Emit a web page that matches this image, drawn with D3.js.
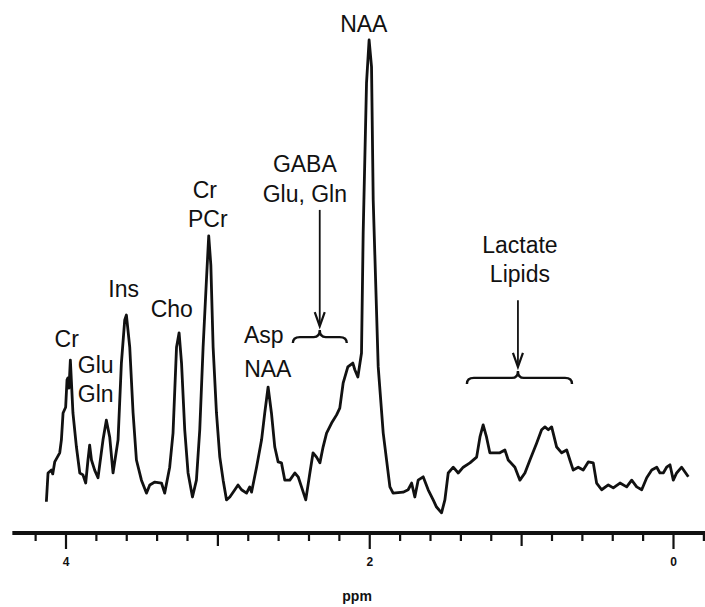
<!DOCTYPE html>
<html>
<head>
<meta charset="utf-8">
<script src="https://cdn.jsdelivr.net/npm/d3@7"></script>
<style>
  body { margin: 0; background: #fff; }
  text { font-family: "Liberation Sans", Arial, sans-serif; fill: #111; }
</style>
</head>
<body>
<svg id="graph" width="705" height="607"></svg>
<script>
const width = 705;
const height = 607;

// spectrum (ppm, intensity in arbitrary units)
const ppm = [4.126, 4.115, 4.093, 4.084, 4.071, 4.038, 4.027, 4.016, 3.999, 3.990,
  3.984, 3.977, 3.968, 3.951, 3.928, 3.906, 3.885, 3.867, 3.852, 3.841,
  3.829, 3.808, 3.786, 3.753, 3.731, 3.709, 3.687, 3.654, 3.632, 3.610,
  3.599, 3.577, 3.555, 3.533, 3.500, 3.467, 3.445, 3.412, 3.368, 3.347,
  3.314, 3.292, 3.269, 3.252, 3.236, 3.215, 3.193, 3.164, 3.138, 3.116,
  3.094, 3.072, 3.057, 3.043, 3.028, 3.006, 2.984, 2.962, 2.940, 2.918,
  2.885, 2.864, 2.841, 2.808, 2.787, 2.775, 2.742, 2.709, 2.688, 2.666,
  2.644, 2.622, 2.600, 2.578, 2.556, 2.523, 2.490, 2.468, 2.446, 2.418,
  2.391, 2.370, 2.347, 2.325, 2.304, 2.281, 2.248, 2.215, 2.194, 2.172,
  2.141, 2.108, 2.095, 2.075, 2.051, 2.040, 2.018, 2.001, 1.985, 1.974,
  1.941, 1.908, 1.864, 1.843, 1.777, 1.744, 1.721, 1.700, 1.678, 1.645,
  1.612, 1.579, 1.557, 1.524, 1.502, 1.480, 1.447, 1.414, 1.381, 1.337,
  1.293, 1.271, 1.250, 1.228, 1.206, 1.173, 1.140, 1.107, 1.085, 1.041,
  1.008, 0.975, 0.942, 0.898, 0.865, 0.843, 0.821, 0.799, 0.766, 0.733,
  0.700, 0.679, 0.657, 0.624, 0.591, 0.558, 0.525, 0.503, 0.470, 0.426,
  0.393, 0.349, 0.305, 0.272, 0.239, 0.206, 0.173, 0.140, 0.107, 0.086,
  0.064, 0.042, 0.020, -0.002, -0.024, -0.057, -0.101];
const intensity = [3.8, 9.8, 10.4, 9.6, 12.1, 14.0, 16.7, 22.3, 23.5, 29.2,
  29.6, 27.5, 33.3, 22.3, 15.2, 9.8, 9.4, 7.7, 12.5, 15.6,
  12.5, 10.4, 8.8, 16.7, 20.8, 17.3, 9.8, 16.7, 32.7, 41.7,
  42.7, 36.0, 22.3, 12.5, 8.3, 5.6, 7.3, 7.9, 7.7, 5.6,
  11.0, 18.1, 36.0, 39.0, 32.7, 18.8, 9.8, 4.8, 8.3, 18.8,
  36.0, 50.0, 59.2, 53.1, 36.0, 22.3, 13.1, 8.3, 4.2, 4.8,
  6.3, 7.3, 6.3, 5.6, 6.9, 5.8, 11.0, 16.7, 22.3, 27.7,
  22.3, 15.2, 12.1, 11.9, 8.3, 8.3, 9.8, 9.0, 6.9, 4.2,
  9.8, 14.0, 13.1, 11.9, 15.2, 18.1, 20.2, 21.9, 23.3, 28.5,
  31.9, 32.7, 31.3, 29.8, 34.8, 59.8, 91.0, 100, 94.4, 66.7,
  31.9, 18.1, 6.9, 5.6, 5.8, 6.3, 7.7, 4.8, 8.3, 9.0,
  6.3, 4.2, 2.7, 1.5, 4.2, 9.8, 11.0, 9.8, 11.0, 11.9,
  13.1, 17.3, 19.8, 17.3, 14.0, 14.0, 14.0, 14.6, 12.5, 11.0,
  8.3, 9.8, 12.5, 16.0, 18.8, 19.4, 18.8, 19.4, 15.2, 14.0,
  14.6, 12.5, 10.4, 11.0, 10.4, 12.1, 11.9, 7.7, 6.3, 7.3,
  6.7, 7.7, 6.9, 8.3, 6.9, 6.3, 8.8, 10.4, 11.0, 9.8,
  9.8, 11.0, 11.5, 8.3, 9.8, 11.0, 9.0];

// axis ticks
const majorTicks = [4, 2, 0];
const midTicks = [3, 1];
const minorTicks = [4.2, 3.8, 3.6, 3.4, 3.2, 2.8, 2.6, 2.4, 2.2, 1.8, 1.6, 1.4, 1.2, 0.8, 0.6, 0.4, 0.2, -0.2];

// peak labels: text, ppm, level
const labels = [
  { text: 'NAA', ppm: 2.036, level: 101.7 },
  { text: 'Cr', ppm: 3.083, level: 67.1 },
  { text: 'PCr', ppm: 3.063, level: 61.0 },
  { text: 'GABA', ppm: 2.424, level: 72.5 },
  { text: 'Glu, Gln', ppm: 2.424, level: 66.3 },
  { text: 'Lactate', ppm: 1.008, level: 55.6 },
  { text: 'Lipids', ppm: 1.008, level: 49.6 },
  { text: 'Ins', ppm: 3.617, level: 46.5 },
  { text: 'Cho', ppm: 3.300, level: 42.3 },
  { text: 'Cr', ppm: 3.992, level: 36.0 },
  { text: 'Glu', ppm: 3.801, level: 30.6 },
  { text: 'Gln', ppm: 3.801, level: 24.6 },
  { text: 'Asp', ppm: 2.694, level: 36.9 },
  { text: 'NAA', ppm: 2.668, level: 29.8 }
];

// brace + arrow marks: ppm range, centre, brace level, arrow top level
const braces = [
  { from: 2.503, to: 2.148, mid: 2.326, level: 38.1, top: 64.6 },
  { from: 1.357, to: 0.665, mid: 1.021, level: 29.6, top: 45.8 }
];

const svg = d3.select('#graph');

var x = d3.scaleLinear()
    .domain([4, 0])
    .range([65.5, 673]);

var y = d3.scaleLinear()
    .domain([0, 100])
    .range([520, 40]);

const axisY = 533;

var data = ppm.map((p, i) => ({ x: p, y: intensity[i] }));

var line = d3.line()
    .x(d => x(d.x))
    .y(d => y(d.y));

svg.append('path')
    .attr('d', line(data))
    .attr('fill', 'none')
    .attr('stroke', '#111')
    .attr('stroke-width', 2.8)
    .attr('stroke-linejoin', 'round');

// baseline of the axis
svg.append('line')
    .attr('x1', x(4.35))
    .attr('x2', width)
    .attr('y1', axisY)
    .attr('y2', axisY)
    .attr('stroke', '#111')
    .attr('stroke-width', 4);

function tickAxis(values, size, withLabels) {
    var ax = d3.axisBottom(x)
        .tickValues(values)
        .tickSize(size)
        .tickPadding(8)
        .tickFormat(withLabels ? d3.format('d') : '');
    var g = svg.append('g')
        .attr('transform', 'translate(0,' + (axisY + 1) + ')')
        .call(ax);
    g.select('.domain').remove();
    g.selectAll('.tick line').attr('stroke', '#111').attr('stroke-width', 2.2);
    g.selectAll('.tick text')
        .attr('font-size', 12)
        .attr('font-weight', 'bold')
        .attr('fill', '#111');
    return g;
}

tickAxis(minorTicks, 7, false);
tickAxis(midTicks, 12, false);
tickAxis(majorTicks, 15, true);

svg.append('text')
    .attr('x', x(2.08))
    .attr('y', 601)
    .attr('text-anchor', 'middle')
    .attr('font-size', 14)
    .attr('font-weight', 'bold')
    .text('ppm');

svg.selectAll('text.label').data(labels)
    .enter().append('text')
    .attr('class', 'label')
    .attr('x', d => x(d.ppm))
    .attr('y', d => y(d.level))
    .attr('text-anchor', 'middle')
    .attr('font-size', 23)
    .text(d => d.text);

braces.forEach(b => {
    var xl = x(b.from), xr = x(b.to), xm = x(b.mid), yb = y(b.level);
    var p = d3.path();
    p.moveTo(xl, yb + 6);
    p.quadraticCurveTo(xl, yb, xl + 7, yb);
    p.lineTo(xm - 6, yb);
    p.quadraticCurveTo(xm, yb, xm, yb - 7);
    p.quadraticCurveTo(xm, yb, xm + 6, yb);
    p.lineTo(xr - 7, yb);
    p.quadraticCurveTo(xr, yb, xr, yb + 6);
    svg.append('path')
        .attr('d', p.toString())
        .attr('fill', 'none')
        .attr('stroke', '#111')
        .attr('stroke-width', 2.4);

    var tip = yb - 11;
    svg.append('line')
        .attr('x1', xm).attr('x2', xm)
        .attr('y1', y(b.top)).attr('y2', tip)
        .attr('stroke', '#111')
        .attr('stroke-width', 1.8);
    svg.append('path')
        .attr('d', 'M' + (xm - 5) + ',' + (tip - 14) + 'L' + xm + ',' + tip + 'L' + (xm + 5) + ',' + (tip - 14))
        .attr('fill', 'none')
        .attr('stroke', '#111')
        .attr('stroke-width', 2.2);
});
</script>
</body>
</html>
